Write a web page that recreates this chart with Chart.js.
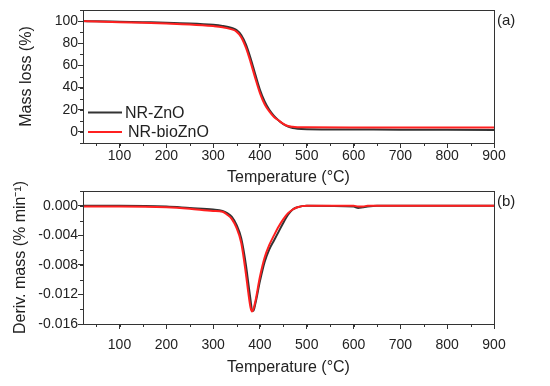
<!DOCTYPE html>
<html>
<head>
<meta charset="utf-8">
<script src="https://cdn.jsdelivr.net/npm/chart.js@4/dist/chart.umd.min.js"></script>
<style>
	html, body { margin: 0; padding: 0; background: #fff; }
	#wrap { position: relative; width: 550px; height: 386px; }
	canvas { position: absolute; left: 0; }
	#tga { top: 0; }
	#dtg { top: 180px; }
</style>
</head>
<body>
<div id="wrap">
	<canvas id="tga" width="550" height="190"></canvas>
	<canvas id="dtg" width="550" height="206"></canvas>
</div>
<script>
// series labels
const seriesNames = ["NR-ZnO", "NR-bioZnO"];
const seriesColors = ["#333333", "#ff2020"];

// (a) mass loss, %
const tgaTemp = [22, 50, 100, 150, 200, 250, 300, 320, 340, 350, 360, 370, 380, 390, 400, 410, 420, 430, 440, 450, 460, 470, 480, 500, 600, 700, 800, 900];
const tgaZnO = [100, 99.8, 99.4, 99.0, 98.6, 97.9, 96.6, 95.6, 93.8, 92.0, 87.5, 79.0, 66.5, 52.0, 38.0, 27.5, 20.0, 14.5, 10.3, 7.0, 4.8, 3.5, 2.9, 2.5, 2.2, 2.0, 1.9, 1.8];
const tgaBio = [100, 99.6, 99.0, 98.4, 97.8, 97.0, 95.5, 94.5, 92.5, 90.5, 85.5, 76.0, 63.0, 48.5, 35.0, 25.0, 18.5, 13.5, 10.3, 7.3, 5.3, 4.6, 4.3, 4.1, 4.0, 3.9, 3.9, 3.9];

// (b) derivative mass, % min-1
const dtgTemp = [22, 100, 200, 250, 300, 320, 330, 340, 350, 360, 370, 375, 380, 383, 386, 390, 400, 410, 420, 430, 440, 450, 460, 470, 480, 500, 600, 610, 620, 630, 650, 900];
const dtgZnO = [0, 0, -0.0001, -0.0003, -0.0005, -0.0007, -0.0010, -0.0015, -0.0026, -0.0044, -0.0080, -0.0104, -0.0128, -0.0141, -0.0142, -0.0133, -0.0102, -0.0076, -0.0059, -0.0047, -0.0035, -0.0023, -0.0012, -0.0005, -0.0002, 0, -0.0001, -0.0003, -0.0002, -0.0001, 0, 0];
const dtgBio = [-0.0001, -0.0001, -0.0002, -0.0004, -0.0007, -0.0008, -0.0012, -0.0018, -0.0030, -0.0050, -0.0092, -0.0117, -0.0138, -0.0143, -0.0140, -0.0130, -0.0096, -0.0070, -0.0053, -0.0040, -0.0028, -0.0018, -0.0010, -0.0005, -0.0002, 0, 0, -0.0001, -0.0001, 0, 0, 0];

// tick labels
const tempTicks = [100, 200, 300, 400, 500, 600, 700, 800, 900];
const massTicks = [0, 20, 40, 60, 80, 100];
const derivTicks = [0, -0.004, -0.008, -0.012, -0.016];

const FONT = "'Liberation Sans', Arial, sans-serif";
const AXIS = "#333333";

/** draws box round the plot, minor ticks, panel tag and an inset legend */
const framePlugin = {
	id: "frame",
	afterDraw(chart, args, opts) {
		const { ctx, chartArea: a, scales } = chart;
		ctx.save();
		ctx.strokeStyle = AXIS;
		ctx.lineWidth = 1;
		ctx.strokeRect(a.left + 0.5, a.top + 0.5, a.right - a.left, a.bottom - a.top);

		// minor ticks
		ctx.beginPath();
		const xs = scales.x;
		for (let v = Math.ceil(xs.min / opts.xMinor) * opts.xMinor; v <= xs.max; v += opts.xMinor) {
			const px = Math.round(xs.getPixelForValue(v)) + 0.5;
			ctx.moveTo(px, a.bottom);
			ctx.lineTo(px, a.bottom + 3);
		}
		const ys = scales.y;
		const n = Math.round((ys.max - ys.min) / opts.yMinor);
		for (let i = 0; i <= n; i++) {
			const py = Math.round(ys.getPixelForValue(ys.min + i * opts.yMinor)) + 0.5;
			ctx.moveTo(a.left, py);
			ctx.lineTo(a.left - 3, py);
		}
		ctx.stroke();

		// panel tag
		ctx.fillStyle = "#222";
		ctx.font = "15px " + FONT;
		ctx.textBaseline = "middle";
		ctx.textAlign = "left";
		ctx.fillText(opts.tag, a.right + 3, a.top + 11);

		if (opts.legend) {
			ctx.font = "16px " + FONT;
			chart.data.datasets.forEach((ds, i) => {
				const y = a.bottom - 30.5 + i * 19.5;
				ctx.strokeStyle = ds.borderColor;
				ctx.lineWidth = 2;
				ctx.beginPath();
				ctx.moveTo(a.left + 5, y);
				ctx.lineTo(a.left + 39, y);
				ctx.stroke();
				ctx.fillStyle = "#222";
				ctx.fillText(ds.label, a.left + 42 + i * 3, y + 1);
			});
		}
		ctx.restore();
	},
};

function makeSets(temps, a, b) {
	return [a, b].map((vals, i) => ({
		label: seriesNames[i],
		data: temps.map((t, j) => ({ x: t, y: vals[j] })),
		borderColor: seriesColors[i],
		borderWidth: 2,
		pointRadius: 0,
		fill: false,
		cubicInterpolationMode: "monotone",
		order: 1 - i,
	}));
}

function makeChart(id, cfg) {
	const ctx = document.getElementById(id).getContext("2d");
	return new Chart(ctx, {
		type: "line",
		data: { datasets: makeSets(cfg.temps, cfg.a, cfg.b) },
		options: {
			responsive: false,
			animation: false,
			layout: { padding: { top: cfg.padTop, right: 56, left: 0, bottom: 0 } },
			plugins: {
				legend: { display: false },
				tooltip: { enabled: false },
				frame: { tag: cfg.tag, legend: cfg.legend, xMinor: 50, yMinor: cfg.yMinor },
			},
			scales: {
				x: {
					type: "linear",
					min: 22,
					max: 900,
					afterBuildTicks: (s) => { s.ticks = tempTicks.map((v) => ({ value: v })); },
					afterFit: (s) => { s.height = cfg.xHeight; },
					grid: { drawOnChartArea: false, tickLength: 5, color: AXIS },
					border: { color: AXIS },
					ticks: { color: "#222", padding: cfg.xTickPad, maxRotation: 0, font: { family: FONT, size: 14 } },
					title: {
						display: true,
						text: "Temperature (°C)",
						color: "#222",
						font: { family: FONT, size: 16 },
						padding: { bottom: cfg.xTitlePad },
					},
				},
				y: {
					min: cfg.yMin,
					max: cfg.yMax,
					afterBuildTicks: (s) => { s.ticks = cfg.yTicks.map((v) => ({ value: v })); },
					afterFit: (s) => { s.width = 83; },
					grid: { drawOnChartArea: false, tickLength: 5, color: AXIS },
					border: { color: AXIS },
					ticks: {
						color: "#222",
						padding: 0,
						font: { family: FONT, size: 14 },
						callback: cfg.yFmt,
					},
					title: {
						display: true,
						text: cfg.yTitle,
						color: "#222",
						font: { family: FONT, size: 16 },
						padding: { top: cfg.yTitlePad },
					},
				},
			},
		},
		plugins: [framePlugin],
	});
}

makeChart("tga", {
	temps: tgaTemp, a: tgaZnO, b: tgaBio,
	tag: "(a)", legend: true,
	padTop: 10, xHeight: 47, xTickPad: 0, xTitlePad: 3, yTitlePad: 17,
	yMin: -10, yMax: 110, yMinor: 10, yTicks: massTicks,
	yFmt: (v) => String(v),
	yTitle: "Mass loss (%)",
});

makeChart("dtg", {
	temps: dtgTemp, a: dtgZnO, b: dtgBio,
	tag: "(b)", legend: false,
	padTop: 11, xHeight: 62, xTickPad: 8, xTitlePad: 9, yTitlePad: 11,
	yMin: -0.016, yMax: 0.002, yMinor: 0.002, yTicks: derivTicks,
	yFmt: (v) => v.toFixed(3),
	yTitle: "Deriv. mass (% min⁻¹)",
});
</script>
</body>
</html>
